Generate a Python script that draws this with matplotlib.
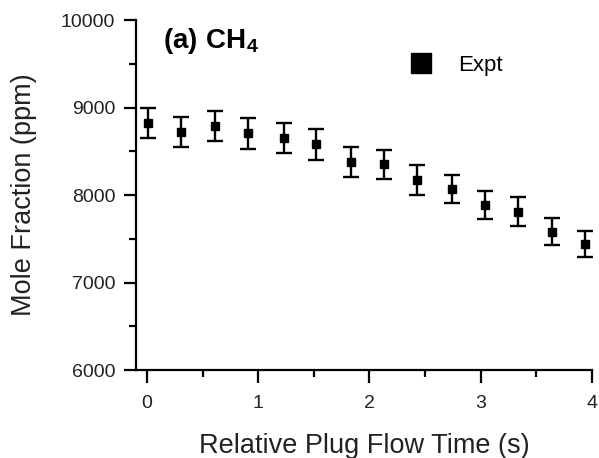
import numpy as np
import matplotlib.pyplot as plt
from matplotlib.ticker import MultipleLocator

plt.rcParams['font.family'] = ['Liberation Sans', 'DejaVu Sans']
plt.rcParams['mathtext.fontset'] = 'custom'
plt.rcParams['mathtext.bf'] = 'Liberation Sans:bold'
plt.rcParams['mathtext.rm'] = 'Liberation Sans'

# plug flow time (s) and CH4 mole fraction (ppm)
time_s = [0.01, 0.305, 0.61, 0.91, 1.23, 1.52, 1.83, 2.13, 2.43, 2.74, 3.04, 3.34, 3.645, 3.94]
ch4_ppm = [8825, 8725, 8790, 8705, 8655, 8580, 8375, 8350, 8175, 8075, 7885, 7810, 7580, 7445]
ch4_err = [175, 170, 170, 175, 170, 175, 170, 170, 170, 160, 160, 165, 155, 150]

fig = plt.figure(figsize=(5.99, 4.58), dpi=100)
ax = fig.add_axes([0.227, 0.192, 0.761, 0.764])

eb = ax.errorbar(time_s, ch4_ppm, yerr=ch4_err, fmt='s', color='black',
                 markersize=5.5, elinewidth=1.7, capsize=6, capthick=1.7)

ax.set_xlim(-0.1, 4)
ax.set_ylim(6000, 10000)
ax.xaxis.set_major_locator(MultipleLocator(1))
ax.xaxis.set_minor_locator(MultipleLocator(0.5))
ax.yaxis.set_major_locator(MultipleLocator(1000))
ax.yaxis.set_minor_locator(MultipleLocator(500))

for side in ['top', 'right']:
    ax.spines[side].set_visible(False)
for side in ['left', 'bottom']:
    ax.spines[side].set_linewidth(1.6)

ax.tick_params(which='major', direction='out', length=9, width=1.6, labelsize=14,
               labelcolor='#222222')
ax.tick_params(axis='x', which='major', pad=9)
ax.tick_params(axis='y', which='major', pad=6)
ax.tick_params(which='minor', direction='out', length=5, width=1.6)

ax.set_xlabel('Relative Plug Flow Time (s)', fontsize=19.5, labelpad=15, color='#222222')
ax.set_ylabel('Mole Fraction (ppm)', fontsize=19.5, labelpad=17, color='#222222')

ax.text(0.06, 0.94, r'$\mathbf{(a)\ CH_4}$', transform=ax.transAxes,
        fontsize=20, va='center', ha='left')

ax.legend([eb[0]], ['Expt'], loc='center left', bbox_to_anchor=(0.684, 0.858),
          bbox_transform=fig.transFigure, frameon=False, fontsize=16,
          markerscale=2.6, handlelength=1.0, handletextpad=1.2,
          borderpad=0, borderaxespad=0)

plt.savefig('out.png', dpi=100)
